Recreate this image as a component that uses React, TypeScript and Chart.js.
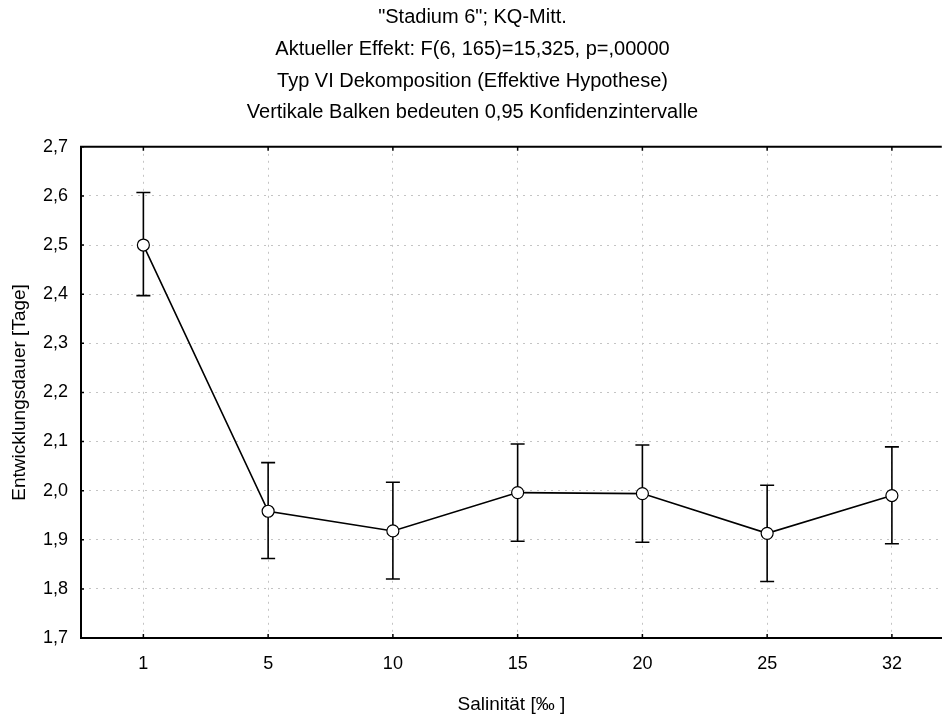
import React, { useEffect, useRef } from "react";
import { Chart, registerables } from "chart.js";

Chart.register(...registerables);

const categories = ["1", "5", "10", "15", "20", "25", "32"];
const means = [2.5, 1.958, 1.918, 1.996, 1.994, 1.913, 1.99];
const lower = [2.397, 1.862, 1.82, 1.897, 1.895, 1.815, 1.892];
const upper = [2.607, 2.057, 2.017, 2.095, 2.093, 2.011, 2.089];
const yTickLabels = ["1,7", "1,8", "1,9", "2,0", "2,1", "2,2", "2,3", "2,4", "2,5", "2,6", "2,7"];
const titleLines = [
  '"Stadium 6"; KQ-Mitt.',
  "Aktueller Effekt: F(6, 165)=15,325, p=,00000",
  "Typ VI Dekomposition (Effektive Hypothese)",
  "Vertikale Balken bedeuten 0,95 Konfidenzintervalle",
];
const xTitle = "Salinität [‰ ]";
const yTitle = "Entwicklungsdauer [Tage]";

const FONT = "'Liberation Sans', Arial, sans-serif";

const errorBars = {
  id: "errorBars",
  beforeDatasetsDraw(chart: any) {
    const { ctx, scales } = chart;
    const xs = scales.x;
    const ys = scales.y;
    ctx.save();
    ctx.strokeStyle = "#000";
    ctx.lineWidth = 1.6;
    for (let i = 0; i < means.length; i++) {
      const x = xs.getPixelForValue(i);
      const yl = ys.getPixelForValue(lower[i]);
      const yh = ys.getPixelForValue(upper[i]);
      ctx.beginPath();
      ctx.moveTo(x, yl);
      ctx.lineTo(x, yh);
      ctx.moveTo(x - 7, yl);
      ctx.lineTo(x + 7, yl);
      ctx.moveTo(x - 7, yh);
      ctx.lineTo(x + 7, yh);
      ctx.stroke();
    }
    ctx.restore();
  },
  afterDraw(chart: any) {
    const { ctx, chartArea, scales } = chart;
    ctx.save();
    ctx.strokeStyle = "#000";
    ctx.lineWidth = 2;
    ctx.beginPath();
    ctx.moveTo(chartArea.left - 1, chartArea.top);
    ctx.lineTo(chartArea.right, chartArea.top);
    ctx.stroke();
    ctx.lineWidth = 1.5;
    ctx.beginPath();
    for (let i = 0; i < categories.length; i++) {
      const x = scales.x.getPixelForValue(i);
      ctx.moveTo(x, chartArea.top);
      ctx.lineTo(x, chartArea.top + 4);
      ctx.moveTo(x, chartArea.bottom);
      ctx.lineTo(x, chartArea.bottom - 4);
    }
    for (let j = 0; j < yTickLabels.length; j++) {
      const y = scales.y.getPixelForValue(1.7 + j * 0.1);
      ctx.moveTo(chartArea.left, y);
      ctx.lineTo(chartArea.left + 3, y);
    }
    ctx.stroke();
    ctx.restore();
  },
};

export default function App() {
  const ref = useRef<HTMLCanvasElement>(null);
  useEffect(() => {
    if (!ref.current) return;
    const chart = new Chart(ref.current, {
      type: "line",
      data: {
        datasets: [
          {
            data: means.map((m, i) => ({ x: i, y: m })),
            borderColor: "#000",
            borderWidth: 1.6,
            pointRadius: 6,
            pointBackgroundColor: "#fff",
            pointBorderColor: "#000",
            pointBorderWidth: 1.2,
            tension: 0,
          },
        ],
      },
      options: {
        responsive: false,
        animation: false,
        layout: { padding: { left: 0, right: 4, top: 0, bottom: 0 } },
        plugins: {
          legend: { display: false },
          tooltip: { enabled: false },
          title: {
            display: true,
            text: titleLines,
            color: "#000",
            font: { family: FONT, size: 20, weight: "normal", lineHeight: "31.7px" },
            padding: { top: 2, bottom: 18 },
          },
        },
        scales: {
          x: {
            type: "linear",
            min: -0.5,
            max: 6.4,
            afterBuildTicks: (scale: any) => {
              scale.ticks = categories.map((_, i) => ({ value: i }));
            },
            afterFit: (scale: any) => {
              scale.height = 83;
            },
            ticks: {
              callback: (v: any) => categories[v] ?? "",
              color: "#000",
              font: { family: FONT, size: 18 },
              padding: 15,
              maxRotation: 0,
            },
            grid: {
              color: "#c4c4c4",
              lineWidth: 1,
              tickLength: 0,
            },
            border: { color: "#000", width: 2, dash: [2, 5] },
            title: {
              display: true,
              text: xTitle,
              color: "#000",
              font: { family: FONT, size: 19 },
              padding: { top: 0, bottom: 5 },
            },
          },
          y: {
            min: 1.7,
            max: 2.7,
            afterBuildTicks: (scale: any) => {
              scale.ticks = yTickLabels.map((_, j) => ({ value: 1.7 + j * 0.1 }));
            },
            afterFit: (scale: any) => {
              scale.width = 81;
            },
            ticks: {
              callback: (_v: any, idx: number) => yTickLabels[idx] ?? "",
              color: "#000",
              font: { family: FONT, size: 18 },
              padding: 13,
            },
            grid: {
              color: "#c4c4c4",
              lineWidth: 1,
              tickLength: 0,
            },
            border: { color: "#000", width: 2, dash: [2, 5] },
            title: {
              display: true,
              text: yTitle,
              color: "#000",
              font: { family: FONT, size: 19 },
              padding: { top: 8, bottom: 0 },
            },
          },
        },
      },
      plugins: [errorBars],
    } as any);
    return () => chart.destroy();
  }, []);
  return (
    <div style={{ position: "fixed", left: 0, top: 0, width: 949, height: 721, background: "#fff" }}>
      <canvas ref={ref} width={949} height={721} style={{ width: 949, height: 721 }} />
    </div>
  );
}
